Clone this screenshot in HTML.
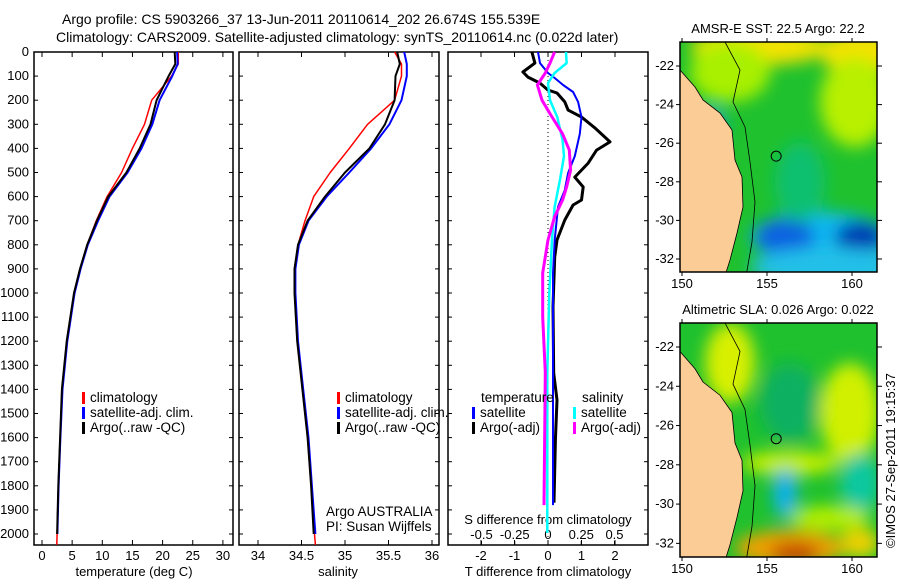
<!DOCTYPE html>
<html><head><meta charset="utf-8"><style>
body{margin:0;background:#fff;}
svg text{font-family:"Liberation Sans",sans-serif;font-size:13px;fill:#000;}
svg text.big{font-size:14px;}
svg text.leg{font-size:13.5px;}
</style></head><body>
<svg id="c" width="900" height="580" xmlns="http://www.w3.org/2000/svg">
<defs>
<filter id="bl" x="-20%" y="-20%" width="140%" height="140%"><feGaussianBlur stdDeviation="8"/></filter>
<clipPath id="m1"><rect x="680" y="42" width="197" height="230"/></clipPath>
<clipPath id="m2"><rect x="680" y="323" width="197" height="234"/></clipPath>
</defs>
<text class="big" x="62" y="24">Argo profile: CS 5903266_37 13-Jun-2011 20110614_202 26.674S 155.539E</text>
<text class="big" x="56" y="42">Climatology: CARS2009. Satellite-adjusted climatology: synTS_20110614.nc (0.022d later)</text>
<g id="plots"></g>
<g id="maps"></g>
</svg>
<script>
// ---- data ----
const tDepth=[0,50,100,200,300,400,500,600,700,800,900,1000,1200,1400,1600,1800,2000];
const tArgo=[22.0,22.1,21.0,19.0,18.0,16.2,14.0,11.0,9.1,7.5,6.3,5.3,4.1,3.3,3.0,2.7,2.5];
const tClim=[22.6,22.6,21.5,18.2,17.0,15.0,13.2,10.8,9.0,7.5,6.3,5.3,4.1,3.3,3.0,2.7,2.5];
const tSat=[22.4,22.5,21.6,19.5,18.3,16.5,14.2,11.2,9.3,7.6,6.4,5.4,4.2,3.4,3.05,2.75,2.55];
const sArgo=[35.60,35.63,35.58,35.57,35.46,35.28,35.00,34.77,34.57,34.46,34.42,34.42,34.45,34.51,34.57,34.61,34.64];
const sClim=[35.57,35.65,35.65,35.57,35.26,35.05,34.83,34.64,34.54,34.46,34.42,34.42,34.45,34.51,34.57,34.61,34.65];
const sSat=[35.68,35.71,35.71,35.65,35.51,35.30,35.05,34.79,34.58,34.47,34.43,34.43,34.46,34.52,34.58,34.62,34.66];
const dtArgoDepth=[0,46,83,104,129,158,170,207,241,270,315,373,407,461,519,560,614,635,697,780,851,1058,1332,1444,1610,1870];
const dtArgo=[-0.48,-0.39,-0.75,-0.6,-0.24,0,0.27,0.5,0.6,1.0,1.4,1.85,1.45,1.2,0.8,1.05,1.0,0.75,0.5,0.27,0.2,0.15,0.17,0.27,0.22,0.18];
const dtSatDepth=[0,46,87,108,137,166,207,270,340,432,502,573,643,780,917,1400,1880];
const dtSat=[-0.3,-0.24,0,0.2,0.45,0.75,0.9,1.0,0.95,0.8,0.6,0.5,0.3,0.2,0.15,0.15,0.15];
const dsSatDepth=[0,46,87,129,200,270,366,432,530,643,780,1000,1330,1996];
const dsSat=[0.135,0.14,0.05,0,0.015,0.07,0.11,0.12,0.09,0.05,0.03,0.01,-0.005,-0.005];
const dsArgoDepth=[0,46,87,137,200,256,340,407,490,560,614,684,780,917,1100,1330,1880];
const dsArgo=[0.05,0.015,-0.02,-0.08,-0.045,0.015,0.11,0.16,0.17,0.14,0.11,0.05,0,-0.04,-0.04,-0.02,-0.03];
const depthTicks=[0,100,200,300,400,500,600,700,800,900,1000,1100,1200,1300,1400,1500,1600,1700,1800,1900,2000];
const tTicks=[0,5,10,15,20,25,30];
const sTicks=[34,34.5,35,35.5,36];
const dTTicks=[-2,-1,0,1,2];
const dSTicks=[-0.5,-0.25,0,0.25,0.5];
const latTicks=[-22,-24,-26,-28,-30,-32];
const lonTicks=[150,155,160];

const NS='http://www.w3.org/2000/svg';
const P=document.getElementById('plots');
function mk(t,a,par){const e=document.createElementNS(NS,t);for(const k in a)e.setAttribute(k,a[k]);(par||P).appendChild(e);return e;}
const y=d=>52+d*0.241;
const panels=[{x0:34,x1:233,f:v=>42+v*6.03},{x0:239,x1:439,f:v=>258+(v-34)*87},{x0:448,x1:648,f:v=>548+v*33.5,g:v=>548+v*133}];
panels.forEach((p,i)=>{
  const r=mk('rect',{x:p.x0,y:52,width:p.x1-p.x0,height:493,fill:'none',stroke:'#000','stroke-width':1.5});
  
  
});
depthTicks.forEach(d=>{
  panels.forEach(p=>{mk('line',{x1:p.x0,x2:p.x0+4,y1:y(d),y2:y(d),stroke:'#000'});mk('line',{x1:p.x1-4,x2:p.x1,y1:y(d),y2:y(d),stroke:'#000'});});
  const t=mk('text',{x:29,y:y(d)+4,'text-anchor':'end'});t.textContent=d;
  
  
});
function xticks(ticks,f,yy){
  ticks.forEach(v=>{const X=f(v);mk('line',{x1:X,x2:X,y1:545,y2:540,stroke:'#000'});mk('line',{x1:X,x2:X,y1:52,y2:57,stroke:'#000'});
    const t=mk('text',{x:X,y:yy,'text-anchor':'middle'});t.textContent=v;
    
    });
}
xticks(tTicks,panels[0].f,560);
xticks(sTicks,panels[1].f,560);
xticks(dTTicks,panels[2].f,560);
dSTicks.forEach(v=>{const X=panels[2].g(v);mk('line',{x1:X,x2:X,y1:545,y2:541,stroke:'#000'});const t=mk('text',{x:X,y:539,'text-anchor':'middle'});t.textContent=v;
  
  });
function txt(s,x,yy,name,anc,cls){const t=mk('text',{x:x,y:yy,'text-anchor':anc||'start'});if(cls)t.setAttribute('class',cls);t.textContent=s;return t;}
txt('temperature (deg C)',134,576,'x-axis-title-temperature','middle');
txt('salinity',338,576,'x-axis-title-salinity','middle');
txt('T difference from climatology',548,576,'x-axis-title-t-diff','middle');
txt('S difference from climatology',548,524,'axis-title-s-diff','middle');
mk('line',{x1:548,x2:548,y1:52,y2:545,stroke:'#000','stroke-dasharray':'1,3'});
function line(ds,vs,f,col,w,name){
  const pts=ds.map((d,i)=>f(vs[i]).toFixed(1)+','+y(d).toFixed(1)).join(' ');
  const e=mk('polyline',{points:pts,fill:'none',stroke:col,'stroke-width':w,'stroke-linejoin':'round'});
  
  
}
line(tDepth.concat([2045]),tClim.concat([2.45]),panels[0].f,'#f00',1.5,'temp-climatology-line');
line(tDepth,tSat,panels[0].f,'#00f',2,'temp-satellite-line');
line(tDepth,tArgo,panels[0].f,'#000',2,'temp-argo-line');
line(tDepth.concat([2045]),sClim.concat([34.66]),panels[1].f,'#f00',1.5,'sal-climatology-line');
line(tDepth,sSat,panels[1].f,'#00f',2,'sal-satellite-line');
line(tDepth,sArgo,panels[1].f,'#000',2,'sal-argo-line');
line(dtArgoDepth,dtArgo,panels[2].f,'#000',3,'t-diff-argo-line');
line(dtSatDepth,dtSat,panels[2].f,'#00f',2,'t-diff-satellite-line');
line(dsSatDepth,dsSat,panels[2].g,'#0ff',2.5,'s-diff-satellite-line');
line(dsArgoDepth,dsArgo,panels[2].g,'#f0f',3,'s-diff-argo-line');
function leg(x,yy,col,s,name){mk('rect',{x:x,y:yy-10,width:3,height:12,fill:col});txt(s,x+8,yy,name,'start','leg');}
[82,337].forEach(x=>{
  leg(x,402,'#f00','climatology','legend-climatology');
  leg(x,417,'#00f','satellite-adj. clim.','legend-satellite-adj');
  leg(x,432,'#000','Argo(..raw -QC)','legend-argo');});
txt('temperature',481,402,'legend-temperature-header','start','leg');
leg(472,417,'#00f','satellite','legend-t-satellite');
leg(472,432,'#000','Argo(-adj)','legend-t-argo');
txt('salinity',582,402,'legend-salinity-header','start','leg');
leg(573,417,'#0ff','satellite','legend-s-satellite');
leg(573,432,'#f0f','Argo(-adj)','legend-s-argo');
txt('Argo AUSTRALIA',326,516,'agency-label','start','leg');
txt('PI: Susan Wijffels',326,531,'pi-label','start','leg');

// ---- maps ----
const M=document.getElementById('maps');
function mm(t,a,par){const e=document.createElementNS(NS,t);for(const k in a)e.setAttribute(k,a[k]);(par||M).appendChild(e);return e;}
const lonX=l=>682+(l-150)*17;
function makeMap(top,h,clip,blobs,title,name){
  const latY=l=>top+24+(-22-l)*19.3*(h/230);
  const g=mm('g',{'clip-path':'url(#'+clip+')'});
  
  
  mm('rect',{x:680,y:top,width:197,height:h,fill:'#1fc12e'},g);
  const bg=mm('g',{filter:'url(#bl)'},g);
  blobs.forEach(b=>mm('ellipse',{cx:b[0],cy:top+b[1],rx:b[2],ry:b[3],fill:b[4]},bg));
  const c=[[680,0],[680,28],[695,45],[703,58],[720,71],[732,88],[735,118],[742,135],[743,165],[737,191],[730,218],[723,240]];
  const pts=c.map(p=>p[0]+','+(top+p[1]*h/230)).join(' ')+' 680,'+(top+h);
  mm('polygon',{points:pts,fill:'#fccc96',stroke:'#000','stroke-width':0.8},g);
  const iso=[[725,0],[740,28],[733,60],[745,85],[750,120],[755,160],[752,200],[745,240]];
  mm('polyline',{points:iso.map(p=>p[0]+','+(top+p[1]*h/230)).join(' '),fill:'none',stroke:'#000','stroke-width':0.8},g);
  mm('circle',{cx:lonX(155.54),cy:latY(-26.67),r:5,fill:'none',stroke:'#000'},g);
  mm('rect',{x:680,y:top,width:197,height:h,fill:'none',stroke:'#000','stroke-width':1.5});
  latTicks.forEach(l=>{const Y=latY(l);mm('line',{x1:877,x2:882,y1:Y,y2:Y,stroke:'#000'});mm('line',{x1:676,x2:680,y1:Y,y2:Y,stroke:'#000'});
    const t=mm('text',{x:674,y:Y+4,'text-anchor':'end'});t.textContent=l;
    
    });
  lonTicks.forEach(l=>{const X=lonX(l);mm('line',{x1:X,x2:X,y1:top+h,y2:top+h+4,stroke:'#000'});mm('line',{x1:X,x2:X,y1:top,y2:top-4,stroke:'#000'});
    const t=mm('text',{x:X,y:top+h+16,'text-anchor':'middle'});t.textContent=l;
    
    });
  const t=mm('text',{x:778,y:top-9,'text-anchor':'middle'});t.textContent=title;
  
  
}
makeMap(42,230,'m1',[
 [760,5,70,18,'#f4e200'],[860,10,40,22,'#f4e200'],[855,60,35,45,'#b8f000'],[730,30,40,30,'#a8f000'],
 [820,195,70,25,'#10b8f0'],[785,195,30,18,'#1060e0'],[860,195,25,15,'#0030b0'],[830,225,80,20,'#20c0e8'],
 [712,85,12,18,'#10a0f0'],[800,140,25,40,'#10c070']],'AMSR-E SST: 22.5 Argo: 22.2','sst-map');
makeMap(323,234,'m2',[
 [730,40,25,40,'#d8f000'],[850,90,30,50,'#d0f000'],[790,140,50,12,'#c8f000'],[860,160,20,30,'#10c8a0'],
 [790,80,30,40,'#10b060'],[785,170,12,25,'#10b0f0'],[790,225,55,18,'#f0a000'],[795,230,25,10,'#c04000'],
 [860,220,20,15,'#f0d000'],[830,195,40,12,'#b8f000']],'Altimetric SLA: 0.026 Argo: 0.022','sla-map');
const st=mm('text',{x:0,y:0,transform:'translate(895,548) rotate(-90)'});st.textContent='©IMOS 27-Sep-2011 19:15:37';


</script>
</body></html>
